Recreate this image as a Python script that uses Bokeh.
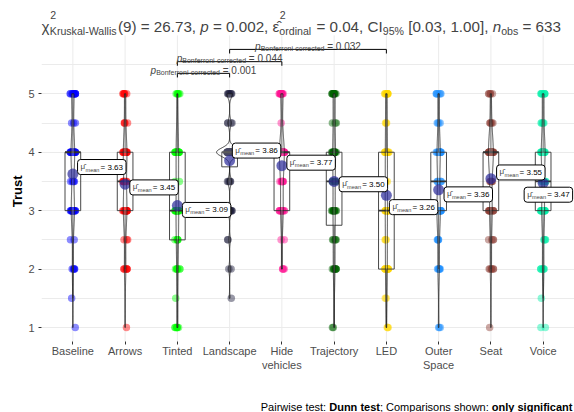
import numpy as np
from bokeh.plotting import figure
from bokeh.layouts import column, row
from bokeh.models import Label, FixedTicker, ColumnDataSource, Range1d
from bokeh.transform import jitter
from bokeh.embed import file_html
from bokeh.resources import INLINE

# ---------------- data ----------------
groups = ["Baseline", "Arrows", "Tinted", "Landscape", "Hide vehicles",
          "Trajectory", "LED", "Outer Space", "Seat", "Voice"]
tick_labels = ["Baseline", "Arrows", "Tinted", "Landscape", "Hide\nvehicles",
               "Trajectory", "LED", "Outer\nSpace", "Seat", "Voice"]
levels = [1, 1.5, 2, 2.5, 3, 3.5, 4, 4.5, 5]
# number of answers at each Trust level (per group)
counts_baseline   = [1, 1, 5, 2, 16, 5, 18, 3, 12]
counts_arrows     = [1, 0, 7, 3, 17, 8, 17, 4, 6]
counts_tinted     = [7, 1, 7, 6, 16, 2, 18, 0, 6]
counts_landscape  = [0, 1, 2, 2, 6, 5, 36, 4, 7]
counts_hide       = [0, 0, 4, 2, 12, 8, 24, 1, 12]
counts_trajectory = [2, 0, 9, 5, 11, 5, 16, 3, 12]
counts_led        = [3, 2, 12, 3, 13, 5, 12, 3, 10]
counts_outer      = [3, 0, 7, 5, 16, 6, 15, 4, 7]
counts_seat       = [1, 0, 6, 4, 12, 6, 24, 5, 5]
counts_voice      = [2, 1, 7, 4, 14, 6, 19, 5, 8]
group_colors = ["#0000FF", "#FF0000", "#00FF00", "#1C1C3C", "#FF1493",
                "#006400", "#FFD700", "#1E90FF", "#8C3C32", "#00F0A8"]

# test statistics shown in the subtitle
chi2_df = 9
chi2_value = "26.73"
p_value = "0.002"
eps_value = "0.04"
ci_low, ci_high = "0.03", "1.00"

# significant pairwise comparisons (Dunn test, Bonferroni)
comp_from = ["Tinted", "Tinted", "Landscape"]
comp_to = ["Landscape", "Hide vehicles", "LED"]
comp_p = ["0.001", "0.044", "0.032"]

# ---------------- layout / style ----------------
FONT = "Liberation Sans"
comp_y = [5.35, 5.55, 5.76]                                   # bracket heights
label_dx = [4.7, 4.7, 5, 2.7, 5, 5, 3, 5.4, 5.7, -19]           # repel offsets (px)
label_dy = [-7, 3.2, 4.4, -10, -3, 2.8, 11.8, 4.6, -6.2, 11.5]

AW = {' ': 278, '!': 278, '%': 889, '(': 333, ')': 333, ',': 278, '-': 333, '.': 278,
      ':': 278, ';': 278, '=': 584, '[': 278, ']': 278, 'A': 667, 'B': 667, 'C': 722,
      'D': 722, 'I': 278, 'K': 667, 'P': 667, 'W': 944, 'a': 556, 'b': 556, 'c': 500,
      'd': 556, 'e': 556, 'f': 278, 'g': 556, 'h': 556, 'i': 222, 'k': 500, 'l': 222,
      'm': 833, 'n': 556, 'o': 556, 'p': 556, 'r': 333, 's': 500, 't': 278, 'u': 556,
      'v': 500, 'w': 722, 'y': 500, 'χ': 548, 'ε': 445, 'μ': 577, '\u0302': 0}
AWB = dict(AW, **{'D': 722, 'u': 611, 'n': 611, 't': 333, 'e': 556, 's': 556, 'o': 611,
                  'l': 278, 'y': 556, 'i': 278, 'g': 611, 'f': 333, 'c': 556, 'a': 556})


def tw(s, size, bold=False):
    table = AWB if bold else AW
    return sum(table.get(ch, 556) for ch in s) * size / 1000.0


W_TOTAL = 574
TRUST_W = 24
FRAME_LEFT = 41          # page x of the panel's left edge
FRAME_BOTTOM = 341       # page y of the panel's bottom edge (frame starts at page top)
MAIN_H = 377
CAP_H = 412 - MAIN_H
PANEL_TOP = 6.0          # value at the top of the grid panel
PX_PER_UNIT = (327.0 - 93.3) / 4.0
Y_LOW = 1 - (FRAME_BOTTOM - 327.0) / PX_PER_UNIT
Y_HIGH = 5 + 93.3 / PX_PER_UNIT


def text_fig(w, h):
    f = figure(width=w, height=h, x_range=Range1d(0, w), y_range=Range1d(h, 0),
               output_backend="svg", toolbar_location=None, min_border=0,
               x_axis_location=None, y_axis_location=None)
    f.grid.visible = False
    f.outline_line_color = None
    f.background_fill_color = "white"
    f.border_fill_color = "white"
    return f


def put(fig, text, x, y, size, style="normal", align="left", baseline="alphabetic",
        color="#000000", angle=0.0):
    fig.add_layout(Label(x=x, y=y, text=text, text_font=FONT,
                         text_font_size=f"{size}px", text_font_style=style,
                         text_align=align, text_baseline=baseline,
                         text_color=color, angle=angle))


# ---------------- main plot ----------------
p = figure(width=W_TOTAL - TRUST_W, height=MAIN_H, x_range=Range1d(0.4, 10.6),
           y_range=Range1d(Y_LOW, Y_HIGH), output_backend="svg", toolbar_location=None,
           min_border_left=FRAME_LEFT - TRUST_W, min_border_right=0, min_border_top=0,
           min_border_bottom=MAIN_H - FRAME_BOTTOM)
p.outline_line_color = None
p.background_fill_color = "white"
p.border_fill_color = "white"


def put_main(text, px, py, size, style="normal", align="left"):
    p.add_layout(Label(x=px - FRAME_LEFT, y=FRAME_BOTTOM - py, x_units="screen",
                       y_units="screen", text=text, text_font=FONT,
                       text_font_size=f"{size}px", text_font_style=style,
                       text_align=align, text_baseline="alphabetic"))


xpos = list(range(1, len(groups) + 1))
p.xaxis.ticker = FixedTicker(ticks=xpos)
p.xaxis.major_label_overrides = {x: t for x, t in zip(xpos, tick_labels)}
p.yaxis.ticker = FixedTicker(ticks=[1, 2, 3, 4, 5], minor_ticks=[1.5, 2.5, 3.5, 4.5, 5.5])
for ax in (p.xaxis, p.yaxis):
    ax.axis_line_color = None
    ax.major_tick_line_color = "#333333"
    ax.major_tick_out = 3
    ax.major_tick_in = 0
    ax.minor_tick_line_color = None
    ax.major_label_text_font = FONT
    ax.major_label_text_font_size = "11px"
    ax.major_label_text_color = "#4D4D4D"
    ax.major_label_standoff = 3
p.xaxis.major_label_standoff = 0
p.xgrid.grid_line_color = None
p.ygrid.grid_line_color = "#EBEBEB"
p.ygrid.minor_grid_line_color = "#EBEBEB"
# vertical grid lines limited to the panel
p.segment(x0=xpos, y0=[Y_LOW] * len(xpos), x1=xpos, y1=[PANEL_TOP] * len(xpos),
          line_color="#EBEBEB", line_width=1)

counts = [counts_baseline, counts_arrows, counts_tinted, counts_landscape, counts_hide,
          counts_trajectory, counts_led, counts_outer, counts_seat, counts_voice]
samples = [np.repeat(levels, c).astype(float) for c in counts]
n_obs = int(sum(len(s) for s in samples))

# jittered points
px_, py_, pc_ = [], [], []
for i, s in enumerate(samples):
    px_ += [xpos[i]] * len(s)
    py_ += list(s)
    pc_ += [group_colors[i]] * len(s)
src = ColumnDataSource(dict(x=px_, y=py_, c=pc_))
p.scatter(x=jitter("x", width=0.1, distribution="uniform"), y="y", source=src,
          size=7.5, fill_color="c", fill_alpha=0.45, line_color=None)


def bw_nrd0(x):
    sd = np.std(x, ddof=1)
    q75, q25 = np.percentile(x, [75, 25])
    lo = min(sd, (q75 - q25) / 1.34)
    if lo <= 0:
        lo = sd if sd > 0 else 1.0
    return 0.9 * lo * len(x) ** -0.2


# boxplots
bl, br, bt, bb, wx, wy0, wy1, mx0, mx1, my = [], [], [], [], [], [], [], [], [], []
for i, s in enumerate(samples):
    q1, med, q3 = np.percentile(s, [25, 50, 75])
    iqr = q3 - q1
    lo_w = s[s >= q1 - 1.5 * iqr].min()
    hi_w = s[s <= q3 + 1.5 * iqr].max()
    x = xpos[i]
    bl.append(x - 0.15); br.append(x + 0.15); bt.append(q3); bb.append(q1)
    wx += [x, x]; wy0 += [q3, q1]; wy1 += [hi_w, lo_w]
    mx0.append(x - 0.15); mx1.append(x + 0.15); my.append(med)
p.quad(left=bl, right=br, top=bt, bottom=bb, fill_color="white", fill_alpha=0.0,
       line_color="#333333", line_width=0.9)
p.segment(x0=wx, y0=wy0, x1=wx, y1=wy1, line_color="#333333", line_width=0.9)
p.segment(x0=mx0, y0=my, x1=mx1, y1=my, line_color="#333333", line_width=1.8)

# violins (gaussian kde, bw.nrd0, trimmed, scale = "area", width 0.5)
dens = []
for s in samples:
    grid = np.linspace(s.min(), s.max(), 512)
    bw = bw_nrd0(s)
    d = np.exp(-0.5 * ((grid[:, None] - s[None, :]) / bw) ** 2).sum(1) / (len(s) * bw * np.sqrt(2 * np.pi))
    dens.append((grid, d))
dmax = max(d.max() for _, d in dens)
vxs, vys = [], []
for i, (grid, d) in enumerate(dens):
    hw = 0.25 * d / dmax
    vxs.append(list(np.concatenate([xpos[i] + hw, (xpos[i] - hw)[::-1]])))
    vys.append(list(np.concatenate([grid, grid[::-1]])))
p.patches(xs=vxs, ys=vys, fill_color="white", fill_alpha=0.2, line_color="#1A1A1A",
          line_width=0.8)

# means
means = [float(s.mean()) for s in samples]
p.scatter(x=xpos, y=means, size=11, fill_color="#2A2A9A", fill_alpha=0.7, line_color=None)

LS = 8
for i, m in enumerate(means):
    dx, dy = label_dx[i], label_dy[i]
    mu_w = tw("μ", LS)
    sub_w = tw("mean", LS * 0.7)
    pad_l = int(round(3 + mu_w + sub_w + 1.5))
    p.add_layout(Label(x=xpos[i], y=m, x_offset=dx, y_offset=-dy,
                       text=f"= {m:.2f}", text_font=FONT, text_font_size=f"{LS}px",
                       text_align="left", text_baseline="middle", text_color="#000000",
                       background_fill_color="white", background_fill_alpha=1.0,
                       border_line_color="#000000", border_line_width=1,
                       border_radius=3,
                       padding=dict(left=pad_l, right=3, top=3, bottom=3)))
    p.add_layout(Label(x=xpos[i], y=m, x_offset=dx + 3, y_offset=-dy + 0.5,
                       text="μ\u0302", text_font=FONT, text_font_size=f"{LS}px",
                       text_align="left", text_baseline="middle"))
    p.add_layout(Label(x=xpos[i], y=m, x_offset=dx + 3 + mu_w + 0.3, y_offset=-dy - 2.5,
                       text="mean", text_font=FONT, text_font_size=f"{LS * 0.7:.1f}px",
                       text_align="left", text_baseline="middle"))

# significance brackets
tip = 0.07
for a, b, pv, yb in zip(comp_from, comp_to, comp_p, comp_y):
    x1 = xpos[groups.index(a)]
    x2 = xpos[groups.index(b)]
    p.multi_line(xs=[[x1, x1, x2, x2]], ys=[[yb - tip, yb, yb, yb - tip]],
                 line_color="#000000", line_width=1)
    S, s = 10, 7
    pieces = [("p", S, "italic", 0), ("Bonferroni-corrected", s, "normal", -2.2),
              (f"= {pv}", S, "normal", 0)]
    widths = [tw("p", S), tw("Bonferroni-corrected", s) + tw(" ", S), tw(f"= {pv}", S)]
    off = -sum(widths) / 2
    xm = (x1 + x2) / 2
    for (t, sz, st, dyy), w in zip(pieces, widths):
        p.add_layout(Label(x=xm, y=yb, x_offset=off, y_offset=3 + dyy, text=t,
                           text_font=FONT, text_font_size=f"{sz}px", text_font_style=st,
                           text_align="left", text_baseline="alphabetic"))
        off += w

# ---------------- title (statistics subtitle), drawn inside the main canvas ----------------
F, f = 15.2, 10.6
base, sub_b, sup_b = 26, 30, 14
x = 41
put_main("χ", x, base, F); x += tw("χ", F)
put_main("2", x + 0.5, sup_b, f); put_main("Kruskal-Wallis", x, sub_b, f)
x += tw("Kruskal-Wallis", f) + 1
t = f"({chi2_df}) = {chi2_value},"; put_main(t, x, base, F); x += tw(t + " ", F)
put_main("p", x, base, F, style="italic"); x += tw("p ", F)
t = f"= {p_value},"; put_main(t, x, base, F); x += tw(t + " ", F)
put_main("ε\u0302", x, base, F); x += tw("ε", F)
put_main("2", x + 0.5, sup_b, f); put_main("ordinal", x, sub_b, f); x += tw("ordinal", f) + 1
t = f"= {eps_value}, CI"; put_main(t, x + tw(" ", F), base, F); x += tw(" " + t, F)
put_main("95%", x, sub_b, f); x += tw("95%", f)
t = f"[{ci_low}, {ci_high}],"; put_main(t, x + tw(" ", F), base, F); x += tw(" " + t + " ", F)
put_main("n", x, base, F, style="italic"); x += tw("n", F)
put_main("obs", x, sub_b, f); x += tw("obs", f)
t = f"= {n_obs}"; put_main(t, x + tw(" ", F), base, F)

# ---------------- y axis title ----------------
yf = text_fig(TRUST_W, MAIN_H)
put(yf, "Trust", 17, 211, 13, style="bold", align="center", baseline="middle",
    angle=np.pi / 2)

# ---------------- caption ----------------
cf = text_fig(W_TOTAL, CAP_H)
C = 11
cap = [("Pairwise test:", "normal", " "), ("Dunn test", "bold", ""),
       ("; Comparisons shown:", "normal", " "), ("only significant", "bold", "")]
total = sum(tw(t + sp, C, st == "bold") for t, st, sp in cap)
x = 572 - total
for t, st, sp in cap:
    put(cf, t, x, 406 - MAIN_H, C, style=st)
    x += tw(t + sp, C, st == "bold")

layout = column(row(yf, p), cf)
open("out.html", "w").write(file_html(layout, INLINE))
